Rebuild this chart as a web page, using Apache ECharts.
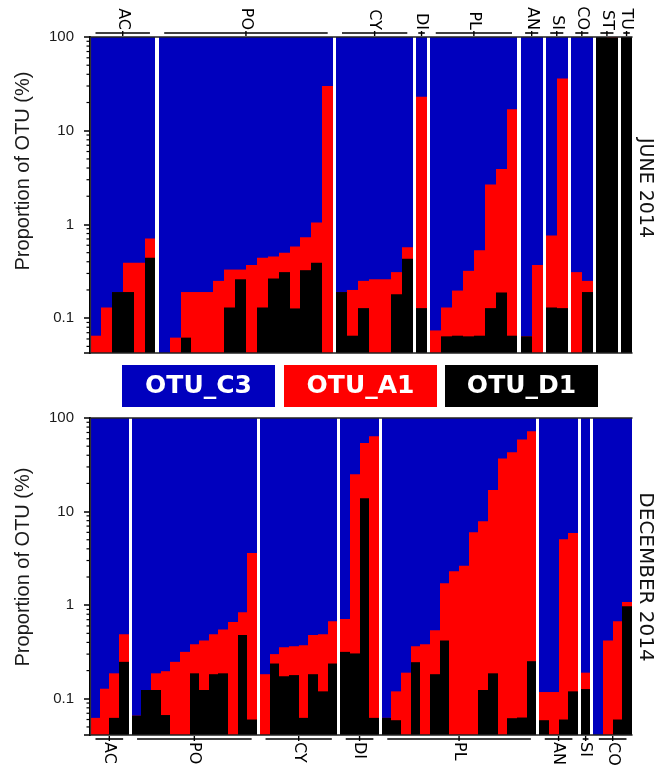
<!DOCTYPE html>
<html>
<head>
<meta charset="utf-8">
<script src="https://cdn.jsdelivr.net/npm/echarts@6/dist/echarts.min.js"></script>
<style>
html, body { margin: 0; padding: 0; background: #fff; }
#chart { width: 655px; height: 765px; }
</style>
</head>
<body>
<div id="chart"></div>
<script>
// colours of the three OTUs
const BLUE = '#0000BE', RED = '#FF0000', BLACK = '#000000';

// y axis
const tickLabels = ['0.1', '1', '10', '100'];

// June 2014 samples, grouped by host
const juneGroups = ['AC', 'PO', 'CY', 'DI', 'PL', 'AN', 'SI', 'CO', 'ST', 'TU'];
const juneSizes = [6, 16, 7, 1, 8, 2, 2, 2, 2, 1];
// top of red bar (OTU_A1) per sample, % (null = nothing)
const juneA1 = [
  0.065, 0.13, 0.19, 0.39, 0.39, 0.71,
  null, 0.062, 0.19, 0.19, 0.19, 0.25, 0.33, 0.33, 0.37, 0.44, 0.455, 0.50, 0.58, 0.73, 1.05, 30,
  0.19, 0.20, 0.25, 0.26, 0.26, 0.31, 0.57,
  23,
  0.074, 0.13, 0.197, 0.32, 0.53, 2.67, 3.9, 16.9,
  0.064, 0.37,
  0.76, 36,
  0.31, 0.25,
  null, 100,
  null
];
// top of black bar (OTU_D1) per sample, %
const juneD1 = [
  null, null, 0.19, 0.19, null, 0.44,
  null, null, 0.062, null, null, null, 0.13, 0.26, null, 0.13, 0.265, 0.31, 0.127, 0.325, 0.39, null,
  0.19, 0.065, 0.128, null, null, 0.18, 0.43,
  0.128,
  null, 0.064, 0.065, 0.064, 0.065, 0.128, 0.188, 0.065,
  0.064, null,
  0.13, 0.128,
  null, 0.19,
  100, 98.5,
  100
];

// December 2014 samples
const decGroups = ['AC', 'PO', 'CY', 'DI', 'PL', 'AN', 'SI', 'CO'];
const decSizes = [4, 13, 8, 4, 16, 4, 1, 4];
const decA1 = [
  0.0625, 0.128, 0.187, 0.49,
  0.066, 0.124, 0.187, 0.197, 0.248, 0.317, 0.383, 0.42, 0.49, 0.55, 0.66, 0.84, 3.6,
  0.183, 0.30, 0.356, 0.365, 0.374, 0.48, 0.49, 0.675,
  0.71, 25, 54, 64,
  0.0625, 0.12, 0.19, 0.365, 0.383, 0.54, 1.72, 2.3, 2.63, 6.0, 7.9, 17, 37, 43, 59, 72,
  0.118, 0.118, 5.07, 5.9,
  0.19,
  null, 0.42, 0.675, 1.08
];
const decD1 = [
  null, null, 0.0625, 0.248,
  0.066, 0.124, 0.124, 0.067, null, null, 0.187, 0.124, 0.183, 0.187, null, 0.48, 0.06,
  null, 0.238, 0.174, 0.179, 0.0625, 0.183, 0.12, 0.238,
  0.317, 0.305, 13.9, 0.0625,
  0.0625, 0.059, null, 0.246, null, 0.183, 0.42, null, null, null, 0.124, 0.187, null, 0.062, 0.063, 0.252,
  0.059, null, 0.06, 0.12,
  0.127,
  null, null, 0.06, 0.975
];

const legendNames = ['OTU_C3', 'OTU_A1', 'OTU_D1'];
const panelTitles = ['JUNE 2014', 'DECEMBER 2014'];
const yTitle = 'Proportion of OTU (%)';

const GAP = 0.3; // white gap between groups, in bar widths

function layout(sizes, a1, d1) {
  const bars = [], groups = [];
  let pos = 0, k = 0;
  sizes.forEach((n, g) => {
    groups.push([pos, pos + n, g]);
    for (let i = 0; i < n; i++, k++) {
      bars.push([pos + i, 100, a1[k] == null ? -1 : a1[k], d1[k] == null ? -1 : d1[k]]);
    }
    pos += n + GAP;
  });
  return { bars, groups, total: pos - GAP };
}

const june = layout(juneSizes, juneA1, juneD1);
const dec = layout(decSizes, decA1, decD1);

function drawBars(params, api) {
  const x = api.value(0), a = api.value(2), d = api.value(3);
  const cs = params.coordSys;
  const bottom = cs.y + cs.height;
  const left = Math.round(api.coord([x, 100])[0]);
  const right = Math.round(api.coord([x + 1, 100])[0]);
  const kids = [{ type: 'rect', shape: { x: left, y: cs.y, width: right - left, height: cs.height }, style: { fill: BLUE } }];
  [[a, RED], [d, BLACK]].forEach(([v, c]) => {
    if (v > 0) {
      const top = api.coord([x, v])[1];
      kids.push({ type: 'rect', shape: { x: left, y: top, width: right - left, height: bottom - top }, style: { fill: c } });
    }
  });
  return { type: 'group', children: kids };
}

function bracketRenderer(names, onTop) {
  return function (params, api) {
    const s = api.value(0), e = api.value(1), g = api.value(2);
    const cs = params.coordSys;
    const x0 = api.coord([s, 100])[0], x1 = api.coord([e, 100])[0];
    const inset = Math.min(5.5, (x1 - x0) * 0.2);
    const cx = (x0 + x1) / 2;
    const y = onTop ? cs.y - 4 : cs.y + cs.height + 4;
    const dir = onTop ? 1 : -1;
    return {
      type: 'group',
      children: [
        { type: 'line', shape: { x1: x0 + inset, y1: y, x2: x1 - inset, y2: y }, style: { stroke: '#000', lineWidth: 1.6 } },
        { type: 'line', shape: { x1: cx, y1: y - 2 * dir, x2: cx, y2: y + 3 * dir }, style: { stroke: '#000', lineWidth: 1.4 } },
        {
          type: 'text', x: cx, y: onTop ? cs.y - 7 : cs.y + cs.height + 7, rotation: -Math.PI / 2,
          style: { text: names[g], fill: '#000', font: '16px "DejaVu Sans"', align: onTop ? 'right' : 'left', verticalAlign: 'middle' }
        }
      ]
    };
  };
}

function minorTicks(min) {
  const out = [];
  for (let dec10 = 0.01; dec10 < 100; dec10 *= 10) {
    for (let m = 2; m <= 9; m++) {
      const v = +(dec10 * m).toPrecision(3);
      if (v > min && v < 100) out.push([0, v]);
    }
  }
  return out;
}

function drawMinor(params, api) {
  const p = api.coord([0, api.value(1)]);
  const cs = params.coordSys;
  return { type: 'line', shape: { x1: cs.x - 3.5, y1: p[1], x2: cs.x, y2: p[1] }, style: { stroke: '#000', lineWidth: 1.2 } };
}

function labelFor(v) {
  const hit = tickLabels.find(t => Math.abs(Math.log10(v) - Math.log10(+t)) < 1e-6);
  return hit || '';
}

const mins = [0.0425, 0.041];
const panels = [june, dec];

const xAxes = [], yAxes = [], series = [];
panels.forEach((p, i) => {
  const xi = xAxes.length, yi = yAxes.length;
  xAxes.push({
    type: 'value', gridIndex: i, min: 0, max: p.total, z: 5,
    axisLine: { show: true, lineStyle: { color: '#222', width: 1.5 } },
    axisTick: { show: false }, axisLabel: { show: false }, splitLine: { show: false }
  });
  xAxes.push({
    type: 'value', gridIndex: i, min: 0, max: p.total, position: 'top', z: 5,
    axisLine: { show: true, onZero: false, lineStyle: { color: '#222', width: 1.5 } },
    axisTick: { show: false }, axisLabel: { show: false }, splitLine: { show: false }
  });
  yAxes.push({
    type: 'log', logBase: 10, gridIndex: i, min: mins[i], max: 100, z: 5,
    axisLine: { show: true, lineStyle: { color: '#000', width: 2 } },
    axisTick: { show: true, length: 6, lineStyle: { color: '#000', width: 1.5 } },
    axisLabel: { formatter: labelFor, margin: 16, color: '#1a1a1a', fontSize: 15, fontFamily: '"Liberation Sans", Arial' },
    splitLine: { show: false }
  });
  yAxes.push({
    type: 'log', logBase: 10, gridIndex: i, min: mins[i], max: 100, position: 'right', z: 5,
    axisLine: { show: true, lineStyle: { color: '#333', width: 1.2 } },
    axisTick: { show: false }, axisLabel: { show: false }, splitLine: { show: false }
  });
  series.push({
    type: 'custom', xAxisIndex: xi, yAxisIndex: yi, encode: { x: 0, y: 1 },
    renderItem: drawBars, data: p.bars, silent: true, z: 2
  });
  series.push({
    type: 'custom', xAxisIndex: xi, yAxisIndex: yi, encode: { x: 0, y: 1 },
    renderItem: bracketRenderer(i === 0 ? juneGroups : decGroups, i === 0),
    data: p.groups.map(g => [g[0], g[1], g[2]]), silent: true, clip: false, z: 3
  });
  series.push({
    type: 'custom', xAxisIndex: xi, yAxisIndex: yi, encode: { x: 0, y: 1 },
    renderItem: drawMinor, data: minorTicks(mins[i]), silent: true, clip: false, z: 6
  });
});

const legendX = [122, 284, 445];
const legendColors = [BLUE, RED, BLACK];

const chart = echarts.init(document.getElementById('chart'), null, { renderer: 'canvas' });
chart.setOption({
  animation: false,
  backgroundColor: '#fff',
  grid: [
    { left: 90, top: 37, width: 542, height: 316 },
    { left: 90, top: 418, width: 542, height: 317 }
  ],
  xAxis: xAxes,
  yAxis: yAxes,
  series: series,
  graphic: [
    { type: 'text', x: 23, y: 171, rotation: Math.PI / 2,
      style: { text: yTitle, font: '20px "Liberation Sans", Arial', fill: '#1a1a1a', align: 'center', verticalAlign: 'middle' } },
    { type: 'text', x: 23, y: 567, rotation: Math.PI / 2,
      style: { text: yTitle, font: '20px "Liberation Sans", Arial', fill: '#1a1a1a', align: 'center', verticalAlign: 'middle' } },
    { type: 'text', x: 645, y: 188, rotation: -Math.PI / 2,
      style: { text: panelTitles[0], font: '19px "DejaVu Sans"', fill: '#111', align: 'center', verticalAlign: 'middle' } },
    { type: 'text', x: 645, y: 577, rotation: -Math.PI / 2,
      style: { text: panelTitles[1], font: '20px "DejaVu Sans"', fill: '#111', align: 'center', verticalAlign: 'middle' } }
  ].concat(legendNames.map((n, i) => ({
    type: 'group', x: legendX[i], y: 365,
    children: [
      { type: 'rect', shape: { x: 0, y: 0, width: 153, height: 42 }, style: { fill: legendColors[i] } },
      { type: 'text', x: 76.5, y: 21, style: { text: n, font: 'bold 25px "DejaVu Sans"', fill: '#fff', align: 'center', verticalAlign: 'middle' } }
    ]
  })))
});
</script>
</body>
</html>
